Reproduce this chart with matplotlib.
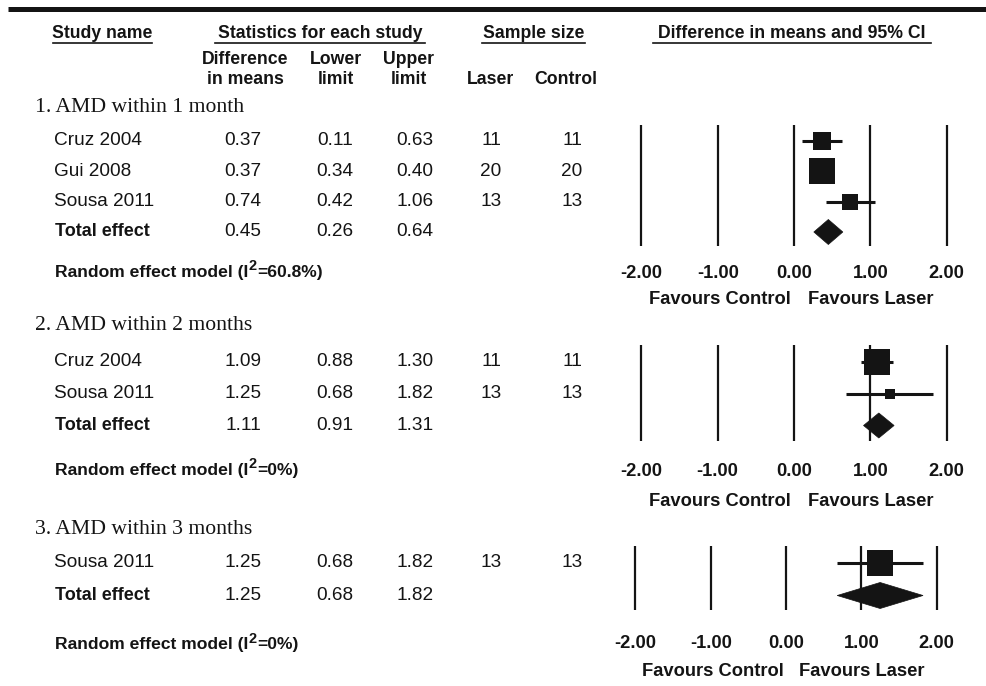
import numpy as np
import matplotlib
matplotlib.use("Agg")
import matplotlib.pyplot as plt
from matplotlib.patches import Polygon

plt.rcParams['font.family'] = ['Liberation Sans', 'DejaVu Sans']

# ---- data ----
section_titles = ["1. AMD within 1 month", "2. AMD within 2 months", "3. AMD within 3 months"]
study_names = [["Cruz 2004", "Gui 2008", "Sousa 2011"], ["Cruz 2004", "Sousa 2011"], ["Sousa 2011"]]
diff_means = [[0.37, 0.37, 0.74], [1.09, 1.25], [1.25]]
lower_limits = [[0.11, 0.34, 0.42], [0.88, 0.68], [0.68]]
upper_limits = [[0.63, 0.40, 1.06], [1.30, 1.82], [1.82]]
n_laser = [[11, 20, 13], [11, 13], [13]]
n_control = [[11, 20, 13], [11, 13], [13]]
weights = [[25, 53, 22], [87, 13], [100]]
total_diff = [0.45, 1.11, 1.25]
total_lower = [0.26, 0.91, 0.68]
total_upper = [0.64, 1.31, 1.82]
i_squared = ["60.8%", "0%", "0%"]
axis_ticks = [-2, -1, 0, 1, 2]

# ---- layout (figure pixels) ----
W, H = 986, 686
INK = '#141414'
layout = [
    dict(title_y=108, first_row=140.5, pitch=30.5, model_y=272, line_top=125, line_bottom=246,
         tick_y=273, fav_y=300, zero_px=794, unit_px=76.3, half_h=12.5),
    dict(title_y=325, first_row=361.5, pitch=32.0, model_y=470, line_top=345, line_bottom=441,
         tick_y=472, fav_y=502, zero_px=794, unit_px=76.4, half_h=12.5),
    dict(title_y=529, first_row=562.5, pitch=33.0, model_y=645, line_top=546, line_bottom=610,
         tick_y=643, fav_y=672, zero_px=786, unit_px=75.3, half_h=13.0),
]
col_diff, col_low, col_up, col_laser, col_ctrl = 243, 335, 415, 491, 572
name_x, total_x, model_x, title_x = 54, 55, 55, 35
max_square_px = 26

fig = plt.figure(figsize=(W / 100, H / 100), dpi=100)
renderer = fig.canvas.get_renderer()
bg = fig.add_axes([0, 0, 1, 1])
bg.set_xlim(0, W)
bg.set_ylim(H, 0)
bg.axis('off')


def text_width_px(artist):
    return artist.get_window_extent(renderer=renderer).width


def model_label(x, y, i2):
    """Bold label 'Random effect model (I^2=..)' with a raised 2."""
    style = dict(fontsize=12.6, fontweight='bold', color=INK, va='center', ha='left')
    t1 = bg.text(x, y, "Random effect model (I", **style)
    x2 = x + text_width_px(t1) + 0.5
    t2 = bg.text(x2, y - 6, "2", fontsize=10.5, fontweight='bold', color=INK,
                 va='center', ha='left')
    x3 = x2 + text_width_px(t2) + 0.3
    bg.text(x3, y, "=" + i2 + ")", **style)


# top rule
bg.plot([8, W], [8.5, 8.5], color=INK, lw=3.6, solid_capstyle='butt')

# column headers
hdr = dict(fontsize=12.7, fontweight='bold', color=INK, ha='center', va='center')
headers = [("Study name", 102.5, 53, 152), ("Statistics for each study", 320, 215, 425),
           ("Sample size", 533.5, 482, 585), ("Difference in means and 95% CI", 792, 653, 931)]
for txt, cx, x0, x1 in headers:
    bg.text(cx, 33, txt, **hdr)
    bg.plot([x0, x1], [42.5, 42.5], color=INK, lw=1.2)
bg.text(245, 59, "Difference", **hdr)
bg.text(245, 79, "in means", **hdr)
bg.text(336, 59, "Lower", **hdr)
bg.text(336, 79, "limit", **hdr)
bg.text(409, 59, "Upper", **hdr)
bg.text(409, 79, "limit", **hdr)
bg.text(490, 79, "Laser", **hdr)
bg.text(566, 79, "Control", **hdr)

body = dict(fontsize=13.7, color=INK, va='center')

for k, L in enumerate(layout):
    # left-hand table
    bg.text(title_x, L['title_y'], section_titles[k], family='Liberation Serif',
            fontsize=15.6, color=INK, va='center', ha='left')
    rows_y = [L['first_row'] + i * L['pitch'] for i in range(len(study_names[k]) + 1)]
    for i, name in enumerate(study_names[k]):
        y = rows_y[i]
        bg.text(name_x, y, name, ha='left', **body)
        bg.text(col_diff, y, f"{diff_means[k][i]:.2f}", ha='center', **body)
        bg.text(col_low, y, f"{lower_limits[k][i]:.2f}", ha='center', **body)
        bg.text(col_up, y, f"{upper_limits[k][i]:.2f}", ha='center', **body)
        bg.text(col_laser, y, f"{n_laser[k][i]}", ha='center', **body)
        bg.text(col_ctrl, y, f"{n_control[k][i]}", ha='center', **body)
    yt = rows_y[-1]
    bg.text(total_x, yt, "Total effect", ha='left', fontsize=13, fontweight='bold',
            color=INK, va='center')
    bg.text(col_diff, yt, f"{total_diff[k]:.2f}", ha='center', **body)
    bg.text(col_low, yt, f"{total_lower[k]:.2f}", ha='center', **body)
    bg.text(col_up, yt, f"{total_upper[k]:.2f}", ha='center', **body)
    model_label(model_x, L['model_y'], i_squared[k])

    # forest panel: x in effect units, y in figure pixels
    left_px = L['zero_px'] - 2.5 * L['unit_px']
    ax = fig.add_axes([left_px / W, 0, 5 * L['unit_px'] / W, 1])
    ax.set_xlim(-2.5, 2.5)
    ax.set_ylim(H, 0)
    ax.axis('off')
    ax.patch.set_alpha(0)
    ax.vlines(axis_ticks, L['line_top'], L['line_bottom'], color=INK, lw=1.6)
    wmax = max(weights[k])
    for i in range(len(study_names[k])):
        y = rows_y[i]
        ax.hlines(y, lower_limits[k][i], upper_limits[k][i], color=INK, lw=2.2, zorder=3)
        side = max_square_px * np.sqrt(weights[k][i] / wmax)
        ax.scatter([diff_means[k][i]], [y], marker='s', s=(side * 0.72) ** 2,
                   color=INK, linewidths=0, zorder=4)
    h = L['half_h']
    ax.add_patch(Polygon([(total_lower[k], yt), (total_diff[k], yt - h),
                          (total_upper[k], yt), (total_diff[k], yt + h)],
                         closed=True, facecolor=INK, edgecolor=INK, lw=0.5, zorder=4))
    for t in axis_ticks:
        ax.text(t, L['tick_y'], f"{t:.2f}", ha='center', va='center', fontsize=13.2,
                fontweight='bold', color=INK)
    ax.text(-0.97, L['fav_y'], "Favours Control", ha='center', va='center', fontsize=13.2,
            fontweight='bold', color=INK)
    ax.text(1.0, L['fav_y'], "Favours Laser", ha='center', va='center', fontsize=13.2,
            fontweight='bold', color=INK)

fig.savefig("out.png", dpi=100)
